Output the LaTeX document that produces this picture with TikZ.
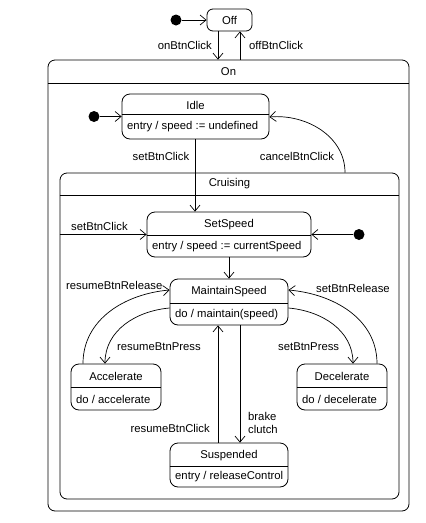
\documentclass[tikz,border=0pt]{standalone}
\usepackage{fontspec}
\setmainfont{Liberation Sans}
\usetikzlibrary{arrows.meta}
\tikzset{
  lbl/.style={font=\fontsize{11.3}{13}\selectfont, inner sep=0pt},
  statebox/.style={draw, line width=0.8pt, rounded corners=8pt, inner sep=0pt},
  regionbox/.style={draw, line width=0.8pt, rounded corners=7pt, inner sep=0pt},
  divider/.style={line width=0.8pt},
  initdot/.style={circle, fill=black, minimum size=11pt, inner sep=0pt},
  arr/.style={line width=0.7pt, -{Straight Barb[length=6pt,width=10pt,line width=0.7pt]}},
}
\newcommand\umlstate[8]{%
  \node[statebox, minimum width={(#4-#2)*1pt}, minimum height={(#5-#3)*1pt}]
    (#1) at ({(#2+#4)/2},{(#3+#5)/2}) {};
  \draw[divider] (#1.west |- 0,#6) -- (#1.east |- 0,#6);
  \node[lbl] (#1-t) at ({(#2+#4)/2},{(#3+#6)/2+1}) {#7};
  \node[lbl, anchor=west] (#1-b) at ({#2+5},{(#6+#5)/2+0.5}) {#8};
}
\begin{document}
\begin{tikzpicture}[x=1pt,y=-1pt]
\useasboundingbox (0,0) rectangle (426,523);
% Off
\node[statebox, rounded corners=6pt, minimum width=45pt, minimum height=22pt] (Off) at (229.5,20) {};
\node[lbl] (Off-t) at (229.5,20.5) {Off};
\node[initdot] (i0) at (176,20) {};
\draw[arr] (i0) -- (Off.west);
% On region
\node[regionbox, minimum width=361pt, minimum height=451pt] (On) at (228.5,285.5) {};
\draw[divider] (On.west |- 0,83) -- (On.east |- 0,83);
\node[lbl] (On-t) at (228.5,72) {On};
\draw[arr] ([xshift=-11.5pt]Off.south) -- ([xshift=-11.5pt]Off.south |- On.north);
\draw[arr] ([xshift=10.5pt]Off.south |- On.north) -- ([xshift=10.5pt]Off.south);
\node[lbl, anchor=east] (l-on) at (212,45) {onBtnClick};
\node[lbl, anchor=west] (l-off) at (249,45) {offBtnClick};
% Idle
\umlstate{Idle}{122}{94}{269}{139}{114}{Idle}{entry / speed := undefined}
\node[initdot] (i1) at (94,116.5) {};
\draw[arr] (i1) -- (Idle.west);
% Cruising region
\node[regionbox, minimum width=339pt, minimum height=326pt] (Cru) at (229.5,336) {};
\draw[divider] (Cru.west |- 0,195) -- (Cru.east |- 0,195);
\node[lbl] (Cru-t) at (229.5,184) {Cruising};
% SetSpeed
\umlstate{Set}{147}{212}{311}{257}{235}{SetSpeed}{entry / speed := currentSpeed}
\node[initdot] (i2) at (359,234.5) {};
\draw[arr] (i2) -- (Set.east);
\draw[arr] (Cru.west |- Set.west) -- (Set.west);
\node[lbl, anchor=west] (l-set2) at (71,226) {setBtnClick};
\draw[arr] ([xshift=-0.5pt]Idle.south) -- ([xshift=-0.5pt]Idle.south |- Set.north);
\node[lbl] (l-set1) at (161,156) {setBtnClick};
\draw[arr] ([xshift=115.5pt]Cru.north) to[out=90,in=5] ([yshift=-0.5pt]Idle.east);
\node[lbl] (l-cancel) at (297,156) {cancelBtnClick};
% MaintainSpeed
\umlstate{Main}{170}{279}{288}{325}{303}{MaintainSpeed}{do / maintain(speed)}
\draw[arr] (Set.south) -- (Main.north);
% Accelerate / Decelerate
\umlstate{Acc}{71}{364}{161}{410}{387}{Accelerate}{do / accelerate}
\umlstate{Dec}{297}{364}{387}{410}{387}{Decelerate}{do / decelerate}
\draw[arr] ([xshift=-33pt]Acc.north) to[out=90,in=185] ([yshift=12pt]Main.west);
\node[lbl, anchor=west] (l-rr) at (66,285) {resumeBtnRelease};
\draw[arr] ([yshift=-6pt]Main.west) to[out=185,in=90] ([xshift=-11pt]Acc.north);
\node[lbl, anchor=west] (l-rp) at (117,347) {resumeBtnPress};
\draw[arr] ([yshift=-6pt]Main.east) to[out=-5,in=90] ([xshift=11pt]Dec.north);
\node[lbl, anchor=west] (l-sp) at (278,347) {setBtnPress};
\draw[arr] ([xshift=35pt]Dec.north) to[out=90,in=-5] ([yshift=12pt]Main.east);
\node[lbl, anchor=west] (l-sr) at (316,288) {setBtnRelease};
% Suspended
\umlstate{Sus}{170}{443}{288}{487}{466}{Suspended}{entry / releaseControl}
\draw[arr] ([xshift=-11pt]Sus.north) -- ([xshift=-11pt]Sus.north |- Main.south);
\draw[arr] ([xshift=11pt]Main.south) -- ([xshift=11pt]Main.south |- Sus.north);
\node[lbl, anchor=east] (l-rc) at (210,428) {resumeBtnClick};
\node[lbl, anchor=west, align=left] (l-bc) at (248,422.5) {brake\\clutch};
\end{tikzpicture}
\end{document}
